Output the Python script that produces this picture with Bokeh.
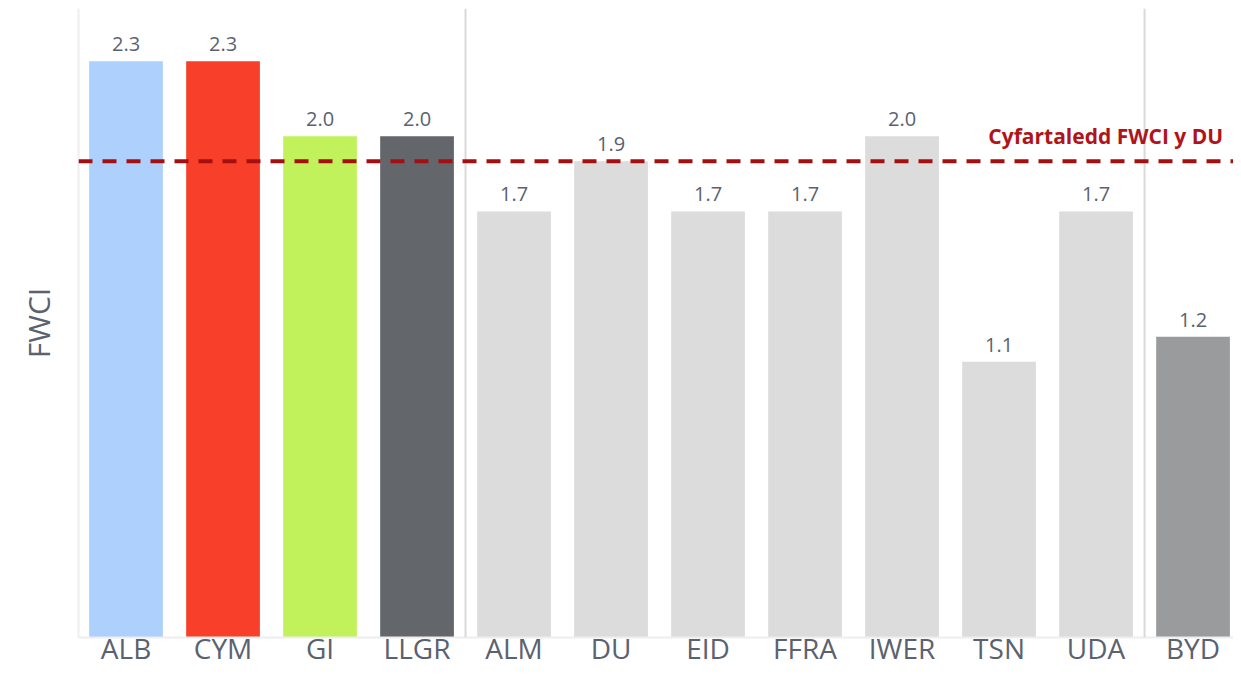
from bokeh.plotting import figure
from bokeh.models import ColumnDataSource, Span, Label, FixedTicker, Range1d
from bokeh.core.properties import value
from bokeh.embed import file_html
from bokeh.resources import INLINE

categories = ["ALB", "CYM", "GI", "LLGR", "ALM", "DU", "EID", "FFRA", "IWER", "TSN", "UDA", "BYD"]
fwci = [2.3, 2.3, 2.0, 2.0, 1.7, 1.9, 1.7, 1.7, 2.0, 1.1, 1.7, 1.2]
colors = ["#aed0fc", "#f73f2a", "#c1f25c", "#63666a", "#dcdcdc", "#dcdcdc",
          "#dcdcdc", "#dcdcdc", "#dcdcdc", "#dcdcdc", "#dcdcdc", "#9a9b9c"]
uk_average = 1.9
uk_label = "Cyfartaledd FWCI y DU"
separators = [3.5, 10.5]

FONT = "Open Sans"
TXT = "#5a6270"

xs = list(range(len(categories)))
src = ColumnDataSource(dict(x=xs, top=fwci, color=colors,
                            lab=[f"{v:.1f}" for v in fwci]))

p = figure(width=1233, height=669, output_backend="svg", toolbar_location=None,
           x_range=Range1d(-0.49, 11.417), y_range=Range1d(0, 2.51),
           min_border_left=78, min_border_right=0, min_border_top=8, min_border_bottom=0)
p.outline_line_color = None
p.grid.grid_line_color = None
p.background_fill_color = "white"

p.vbar(x="x", top="top", width=0.76, color="color", source=src, line_color=None)
p.text(x="x", y="top", text="lab", source=src, text_align="center", text_baseline="bottom",
       y_offset=-10, text_font=value(FONT), text_font_size="20px", text_color=TXT)

for s in separators:
    p.add_layout(Span(location=s, dimension="height", line_color="#d9d9d9", line_width=2))

p.add_layout(Span(location=uk_average, dimension="width", line_color="#a50f12",
                  line_width=4, line_dash="14 10"))
p.add_layout(Label(x=11.31, y=uk_average, text=uk_label, text_align="right",
                   text_baseline="bottom", y_offset=11, text_font=FONT,
                   text_font_size="21px", text_font_style="bold", text_color="#b0141a"))

p.xaxis.ticker = FixedTicker(ticks=xs)
p.xaxis.major_label_overrides = {i: c for i, c in enumerate(categories)}
p.xaxis.major_label_text_font = FONT
p.xaxis.major_label_text_font_size = "28px"
p.xaxis.major_label_text_color = TXT
p.xaxis.major_tick_line_color = None
p.xaxis.minor_tick_line_color = None
p.xaxis.axis_line_color = "#eeeeee"
p.xaxis.axis_line_width = 2
p.xaxis.major_label_standoff = -15

p.yaxis.ticker = FixedTicker(ticks=[])
p.yaxis.major_tick_line_color = None
p.yaxis.minor_tick_line_color = None
p.yaxis.axis_line_color = "#eeeeee"
p.yaxis.axis_line_width = 2
p.yaxis.major_label_text_font_size = "0px"
p.yaxis.axis_label = "FWCI"
p.yaxis.axis_label_text_font = FONT
p.yaxis.axis_label_text_font_size = "30px"
p.yaxis.axis_label_text_font_style = "normal"
p.yaxis.axis_label_text_color = TXT
p.yaxis.axis_label_standoff = 20

open("out.html", "w").write(file_html(p, INLINE))
